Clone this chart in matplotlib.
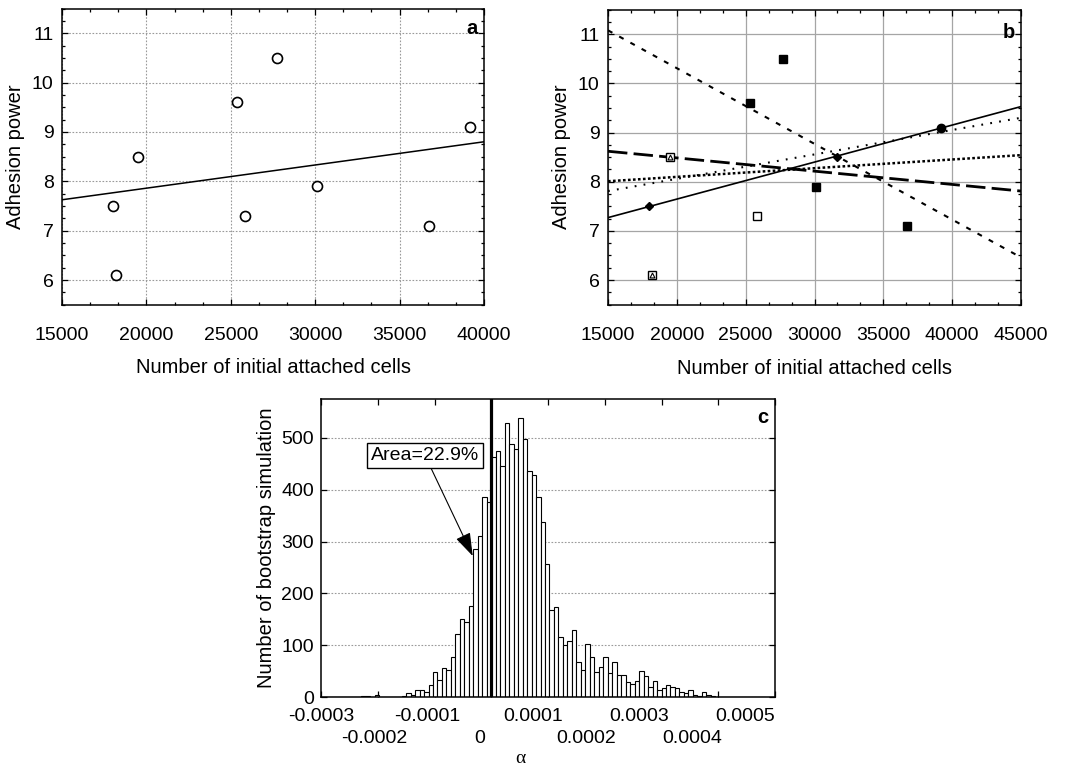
import matplotlib
matplotlib.use('Agg')
import matplotlib.pyplot as plt
import matplotlib.transforms as mtransforms
from matplotlib.ticker import MultipleLocator
import numpy as np

plt.rcParams['font.family'] = ['Liberation Sans', 'DejaVu Sans']
plt.rcParams['lines.scale_dashes'] = False

# ---------------- data ----------------
# panel a
a_cells = [18000, 18200, 19500, 25350, 25820, 27720, 30100, 36760, 39170]
a_power = [7.5, 6.1, 8.5, 9.6, 7.3, 10.5, 7.9, 7.1, 9.1]

# panel b (groups of points)
b_filled_sq_x = [25310, 27730, 30100, 36740]
b_filled_sq_y = [9.6, 10.5, 7.9, 7.1]
b_open_sq_x = [25820]
b_open_sq_y = [7.3]
b_tri_sq_x = [18220, 19520]
b_tri_sq_y = [6.1, 8.5]
b_diamond_x = [18000, 31600]
b_diamond_y = [7.5, 8.5]
b_circle_x = [39160]
b_circle_y = [9.1]

# panel b fitted lines: value at 15000 cells and slope per 10000 cells
b_fit_at_15000 = [7.27, 11.08, 8.62, 8.01, 7.81]
b_fit_slope_per_10k = [0.753, -1.54, -0.27, 0.177, 0.497]

# panel c histogram
c_bin_start = -0.0003
c_bin_width = 0.0003 / 38
c_counts = [0, 0, 0, 0, 0, 0, 0, 0, 0, 2,
            2, 0, 4, 0, 0, 0, 0, 0, 2, 7,
            3, 13, 13, 9, 24, 48, 33, 55, 53, 78,
            122, 150, 145, 175, 286, 310, 385, 377, 463, 474,
            446, 529, 488, 478, 539, 497, 436, 428, 385, 338,
            257, 167, 174, 115, 100, 109, 129, 68, 53, 102,
            77, 48, 57, 77, 46, 68, 42, 42, 29, 26,
            31, 51, 41, 19, 31, 13, 17, 23, 20, 17,
            9, 8, 14, 4, 1, 9, 4, 2, 0, 0,
            0, 0, 0, 0, 0, 0, 0, 0, 0]
c_xticks = [-0.0003, -0.0002, -0.0001, 0, 0.0001, 0.0002, 0.0003, 0.0004, 0.0005]
c_xticklabels = ['-0.0003', '-0.0002', '-0.0001', '0', '0.0001', '0.0002',
                 '0.0003', '0.0004', '0.0005']
c_yticks = [0, 100, 200, 300, 400, 500]

# ---------------- figure ----------------
W, H = 1066, 771
fig = plt.figure(figsize=(W / 100, H / 100), dpi=100)


def rect(l, t, r, b):
    return [l / W, 1 - b / H, (r - l) / W, (b - t) / H]


TICK_FS = 14
LAB_FS = 14.5


def style_axes(ax):
    for s in ax.spines.values():
        s.set_linewidth(1.1)
        s.set_color('black')
    ax.tick_params(which='both', direction='in', top=True, right=True,
                   labelsize=TICK_FS, width=0.9)
    ax.tick_params(which='major', length=4)
    ax.tick_params(which='minor', length=2.5)


# ---- panel a ----
ax_a = fig.add_axes(rect(62, 8.6, 484, 304.7))
ax_a.set_xlim(15000, 40000)
ax_a.set_ylim(5.5, 11.5)
ax_a.xaxis.set_major_locator(MultipleLocator(5000))
ax_a.xaxis.set_minor_locator(MultipleLocator(5000 / 3))
ax_a.yaxis.set_major_locator(MultipleLocator(1))
ax_a.yaxis.set_minor_locator(MultipleLocator(0.25))
ax_a.grid(True, which='major', color='#9a9a9a', linestyle=(0, (1.2, 1.2)), linewidth=0.8)
ax_a.set_axisbelow(True)
style_axes(ax_a)
ax_a.tick_params(axis='x', which='both', pad=16)
ax_a.tick_params(axis='y', which='both', pad=6)
coef = np.polyfit(a_cells, a_power, 1)
xx = np.array(ax_a.get_xlim())
ax_a.plot(xx, np.polyval(coef, xx), color='black', lw=1.1)
ax_a.plot(a_cells, a_power, linestyle='none', marker='o', markersize=7.2,
          markerfacecolor='white', markeredgecolor='black', markeredgewidth=1.2)
ax_a.set_ylabel('Adhesion power', fontsize=LAB_FS, labelpad=5)
ax_a.set_xlabel('Number of initial attached cells', fontsize=LAB_FS, labelpad=10)
ax_a.text(0.985, 0.965, 'a', transform=ax_a.transAxes, ha='right', va='top',
          fontsize=14.5, fontweight='bold')

# ---- panel b ----
ax_b = fig.add_axes(rect(608, 9.7, 1021, 304.6))
ax_b.set_xlim(15000, 45000)
ax_b.set_ylim(5.5, 11.5)
ax_b.xaxis.set_major_locator(MultipleLocator(5000))
ax_b.xaxis.set_minor_locator(MultipleLocator(5000 / 3))
ax_b.yaxis.set_major_locator(MultipleLocator(1))
ax_b.yaxis.set_minor_locator(MultipleLocator(0.25))
ax_b.grid(True, which='major', color='#a5a5a5', linestyle='-', linewidth=0.9)
ax_b.set_axisbelow(True)
style_axes(ax_b)
ax_b.tick_params(axis='x', which='both', pad=16)
ax_b.tick_params(axis='y', which='both', pad=6)

fit_styles = [
    dict(linestyle='-', lw=1.2),
    dict(linestyle=(0, (3.6, 5.6)), lw=1.5),
    dict(linestyle=(0, (14, 4.5)), lw=2.0),
    dict(linestyle=(0, (1.9, 1.7)), lw=1.8),
    dict(linestyle=(0, (1.3, 5.2)), lw=1.5),
]
xb = np.array(ax_b.get_xlim())
for v0, sl, st in zip(b_fit_at_15000, b_fit_slope_per_10k, fit_styles):
    ax_b.plot(xb, v0 + sl * (xb - 15000) / 10000, color='black', **st)

ax_b.plot(b_filled_sq_x, b_filled_sq_y, linestyle='none', marker='s', markersize=6.3,
          markerfacecolor='black', markeredgecolor='black')
ax_b.plot(b_open_sq_x, b_open_sq_y, linestyle='none', marker='s', markersize=5.5,
          markerfacecolor='white', markeredgecolor='black', markeredgewidth=1.0)
ax_b.plot(b_tri_sq_x, b_tri_sq_y, linestyle='none', marker='s', markersize=5.5,
          markerfacecolor='white', markeredgecolor='black', markeredgewidth=1.0)
ax_b.plot(b_tri_sq_x, b_tri_sq_y, linestyle='none', marker='^', markersize=3.5,
          markerfacecolor='white', markeredgecolor='black', markeredgewidth=0.8)
ax_b.plot(b_diamond_x, b_diamond_y, linestyle='none', marker='D', markersize=3.6,
          markerfacecolor='black', markeredgecolor='black')
ax_b.plot(b_circle_x, b_circle_y, linestyle='none', marker='o', markersize=6,
          markerfacecolor='black', markeredgecolor='black')
ax_b.set_ylabel('Adhesion power', fontsize=LAB_FS, labelpad=5)
ax_b.set_xlabel('Number of initial attached cells', fontsize=LAB_FS, labelpad=11)
ax_b.text(0.985, 0.955, 'b', transform=ax_b.transAxes, ha='right', va='top',
          fontsize=14.5, fontweight='bold')

# ---- panel c ----
ax_c = fig.add_axes(rect(321, 399, 775, 697))
ax_c.set_xlim(-0.0003, 0.0005)
ax_c.set_ylim(0, 575)
lefts = c_bin_start + c_bin_width * np.arange(len(c_counts))
ax_c.bar(lefts, c_counts, width=c_bin_width, align='edge', color='white',
         edgecolor='black', linewidth=0.8, zorder=2)
ax_c.axvline(0, color='black', lw=2.3, zorder=3)
ax_c.set_yticks(c_yticks)
ax_c.set_xticks(c_xticks)
ax_c.set_xticklabels([])
ax_c.yaxis.grid(True, color='#9a9a9a', linestyle=(0, (1.2, 1.2)), linewidth=0.8)
ax_c.set_axisbelow(True)
style_axes(ax_c)
ax_c.tick_params(axis='y', pad=5)
ax_c.tick_params(axis='x', length=4)
# staggered tick labels (as in the original rendering)
trans = mtransforms.blended_transform_factory(ax_c.transData, ax_c.transAxes)
label_compress = 53 / 56.75
for i, (v, lab) in enumerate(zip(c_xticks, c_xticklabels)):
    xpos = c_xticks[0] + (v - c_xticks[0]) * label_compress
    ypos = -0.037 if i % 2 == 0 else -0.112
    ax_c.text(xpos, ypos, lab, transform=trans, ha='center', va='top', fontsize=TICK_FS)
ax_c.text(0.44, -0.236, 'α', transform=ax_c.transAxes, ha='center', va='bottom',
          fontsize=14, family=['Liberation Serif', 'DejaVu Serif'])
ax_c.set_ylabel('Number of bootstrap simulation', fontsize=LAB_FS, labelpad=4)
ax_c.text(0.985, 0.97, 'c', transform=ax_c.transAxes, ha='right', va='top',
          fontsize=14.5, fontweight='bold')
ax_c.annotate('Area=22.9%', xy=(-3.26e-5, 272), xytext=(-1.167e-4, 466),
              ha='center', va='center', fontsize=14, zorder=5,
              bbox=dict(boxstyle='square,pad=0.2', fc='white', ec='black', lw=1.0),
              arrowprops=dict(arrowstyle='-|>,head_length=0.9,head_width=0.3',
                              lw=0.8, color='black', shrinkA=0, shrinkB=0,
                              mutation_scale=16))

fig.savefig('out.png', dpi=100)
